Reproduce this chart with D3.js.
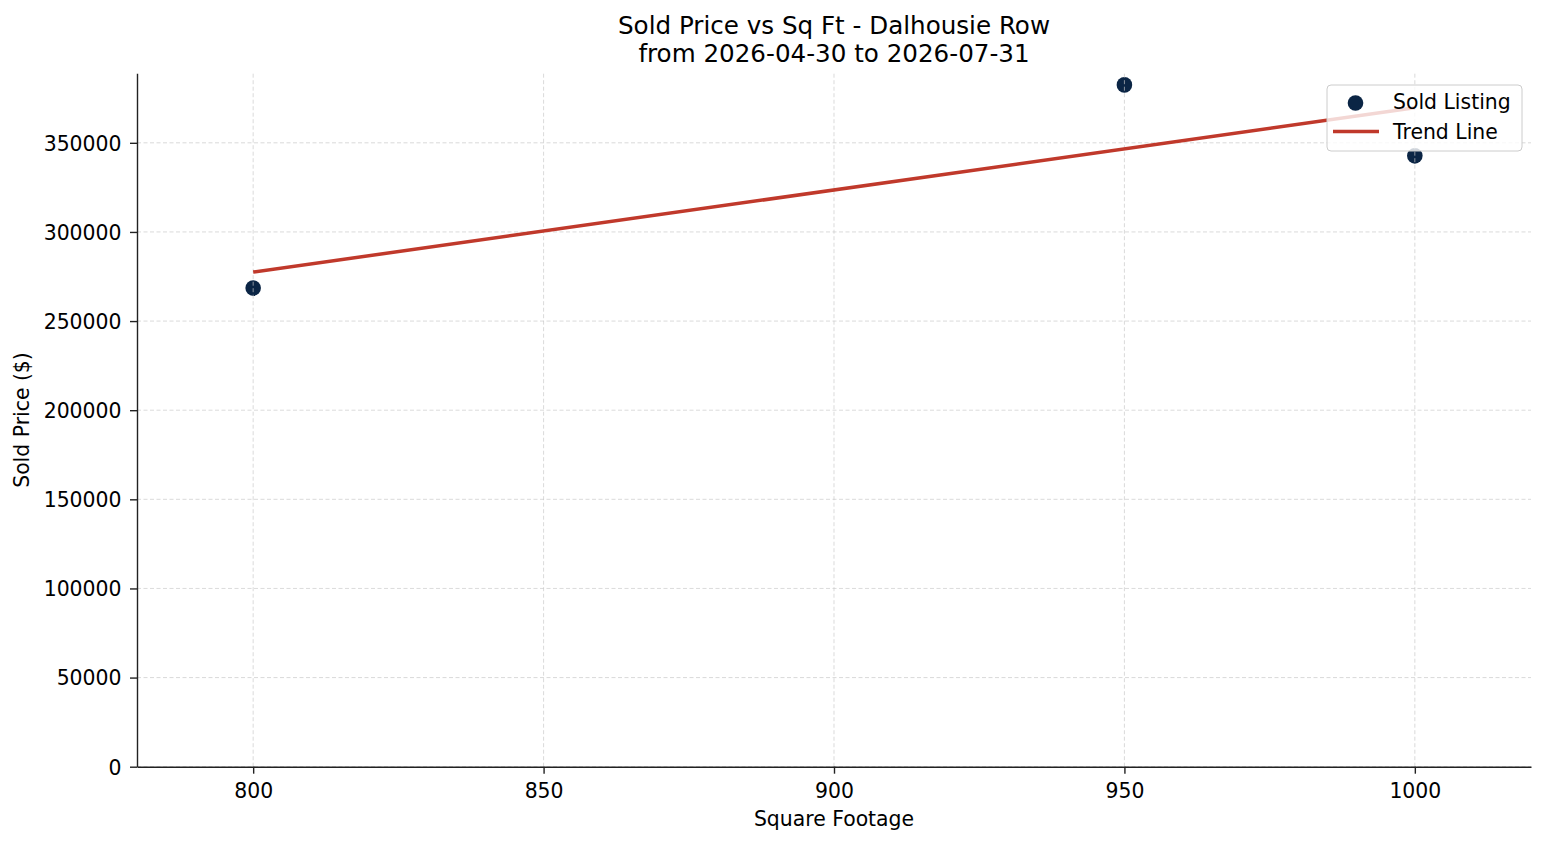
<!DOCTYPE html>
<html>
<head>
<meta charset="utf-8">
<script src="https://cdn.jsdelivr.net/npm/d3@7"></script>
<style>
  html, body { margin: 0; padding: 0; background: #fff; }
  svg { display: block; font-family: "DejaVu Sans", sans-serif; }
  .tick text { fill: #000; }
</style>
</head>
<body>
<svg id="chart" width="1547" height="845"></svg>
<script>
// Sold listings
const sqFt = [800, 950, 1000];
const soldPrice = [268500, 382500, 342700];

const xTicks = [800, 850, 900, 950, 1000];
const yTicks = [0, 50000, 100000, 150000, 200000, 250000, 300000, 350000];
const xDomain = [780, 1020];
const yDomain = [0, 389000];

const titleLines = ["Sold Price vs Sq Ft - Dalhousie Row", "from 2026-04-30 to 2026-07-31"];
const legendLabels = ["Sold Listing", "Trend Line"];

const dotColor = "#0b2545";
const lineColor = "#c0392b";

const svg = d3.select("#chart");
const width = 1547;
const height = 845;
const margin = { top: 73.3, right: 16, bottom: 78.3, left: 137 };
const fontSize = 20.4;

const x = d3.scaleLinear().domain(xDomain).range([margin.left, width - margin.right]);
const y = d3.scaleLinear().domain(yDomain).range([height - margin.bottom, margin.top]);

// least squares trend through the listings
const trend = fitLine(sqFt, soldPrice);
const trendPoints = d3.extent(sqFt).map(v => [v, trend.intercept + trend.slope * v]);

// dots sit under the grid, like matplotlib's default zorder
svg.append("g")
  .selectAll("circle")
  .data(sqFt.map((v, i) => [v, soldPrice[i]]))
  .join("circle")
  .attr("cx", d => x(d[0]))
  .attr("cy", d => y(d[1]))
  .attr("r", 7.8)
  .attr("fill", dotColor);

const grid = svg.append("g")
  .attr("stroke", "#c8c8c8")
  .attr("stroke-opacity", 0.85)
  .attr("stroke-width", 0.8)
  .attr("stroke-dasharray", "4,2.5");

grid.selectAll("line.gx")
  .data(xTicks)
  .join("line")
  .attr("class", "gx")
  .attr("x1", d => x(d)).attr("x2", d => x(d))
  .attr("y1", y.range()[0]).attr("y2", y.range()[1]);

grid.selectAll("line.gy")
  .data(yTicks)
  .join("line")
  .attr("class", "gy")
  .attr("x1", x.range()[0]).attr("x2", x.range()[1])
  .attr("y1", d => y(d)).attr("y2", d => y(d));

svg.append("path")
  .datum(trendPoints)
  .attr("fill", "none")
  .attr("stroke", lineColor)
  .attr("stroke-width", 3.5)
  .attr("d", d3.line().x(d => x(d[0])).y(d => y(d[1])));

// axes, left and bottom spines only
const xAxis = svg.append("g")
  .attr("transform", `translate(0,${y.range()[0]})`)
  .call(d3.axisBottom(x).tickValues(xTicks).tickFormat(d3.format("d")).tickSize(7).tickPadding(7).tickSizeOuter(0));

xAxis.selectAll("text")
  .attr("dy", null)
  .attr("y", 31.5)
  .style("font-size", fontSize + "px");

const yAxis = svg.append("g")
  .attr("transform", `translate(${x.range()[0]},0)`)
  .call(d3.axisLeft(y).tickValues(yTicks).tickFormat(d3.format("d")).tickSize(7).tickPadding(8.5).tickSizeOuter(0));

yAxis.selectAll("text")
  .attr("dy", "0.36em")
  .style("font-size", fontSize + "px");

[xAxis, yAxis].forEach(axis => {
  axis.attr("font-family", null).attr("font-size", null);
  axis.select(".domain").attr("stroke", "#222").attr("stroke-width", 1.4);
  axis.selectAll(".tick line").attr("stroke", "#222").attr("stroke-width", 1.4);
});

// titles and labels
const plotCenter = (x.range()[0] + x.range()[1]) / 2;

svg.append("text")
  .attr("text-anchor", "middle")
  .style("font-size", "24.6px")
  .selectAll("tspan")
  .data(titleLines)
  .join("tspan")
  .attr("x", plotCenter)
  .attr("y", (d, i) => 34.3 + i * 27.5)
  .text(d => d);

svg.append("text")
  .attr("x", plotCenter)
  .attr("y", 826)
  .attr("text-anchor", "middle")
  .style("font-size", fontSize + "px")
  .text("Square Footage");

svg.append("text")
  .attr("transform", `translate(28.5,${(y.range()[0] + y.range()[1]) / 2}) rotate(-90)`)
  .attr("text-anchor", "middle")
  .style("font-size", fontSize + "px")
  .text("Sold Price ($)");

// legend
const legend = svg.append("g").attr("transform", "translate(1327,85)");

legend.append("rect")
  .attr("width", 195)
  .attr("height", 66)
  .attr("rx", 4)
  .attr("fill", "#fff")
  .attr("fill-opacity", 0.8)
  .attr("stroke", "#cccccc")
  .attr("stroke-width", 1);

legend.append("circle")
  .attr("cx", 28.5)
  .attr("cy", 18)
  .attr("r", 7.8)
  .attr("fill", dotColor);

legend.append("line")
  .attr("x1", 6).attr("x2", 52)
  .attr("y1", 46.5).attr("y2", 46.5)
  .attr("stroke", lineColor)
  .attr("stroke-width", 3.5);

legend.selectAll("text")
  .data(legendLabels)
  .join("text")
  .attr("x", 66)
  .attr("y", (d, i) => 24.3 + i * 29.7)
  .style("font-size", fontSize + "px")
  .text(d => d);

function fitLine(xs, ys) {
  const mx = d3.mean(xs);
  const my = d3.mean(ys);
  let sxy = 0;
  let sxx = 0;
  xs.forEach((v, i) => {
    sxy += (v - mx) * (ys[i] - my);
    sxx += (v - mx) * (v - mx);
  });
  const slope = sxy / sxx;
  return { slope, intercept: my - slope * mx };
}
</script>
</body>
</html>
